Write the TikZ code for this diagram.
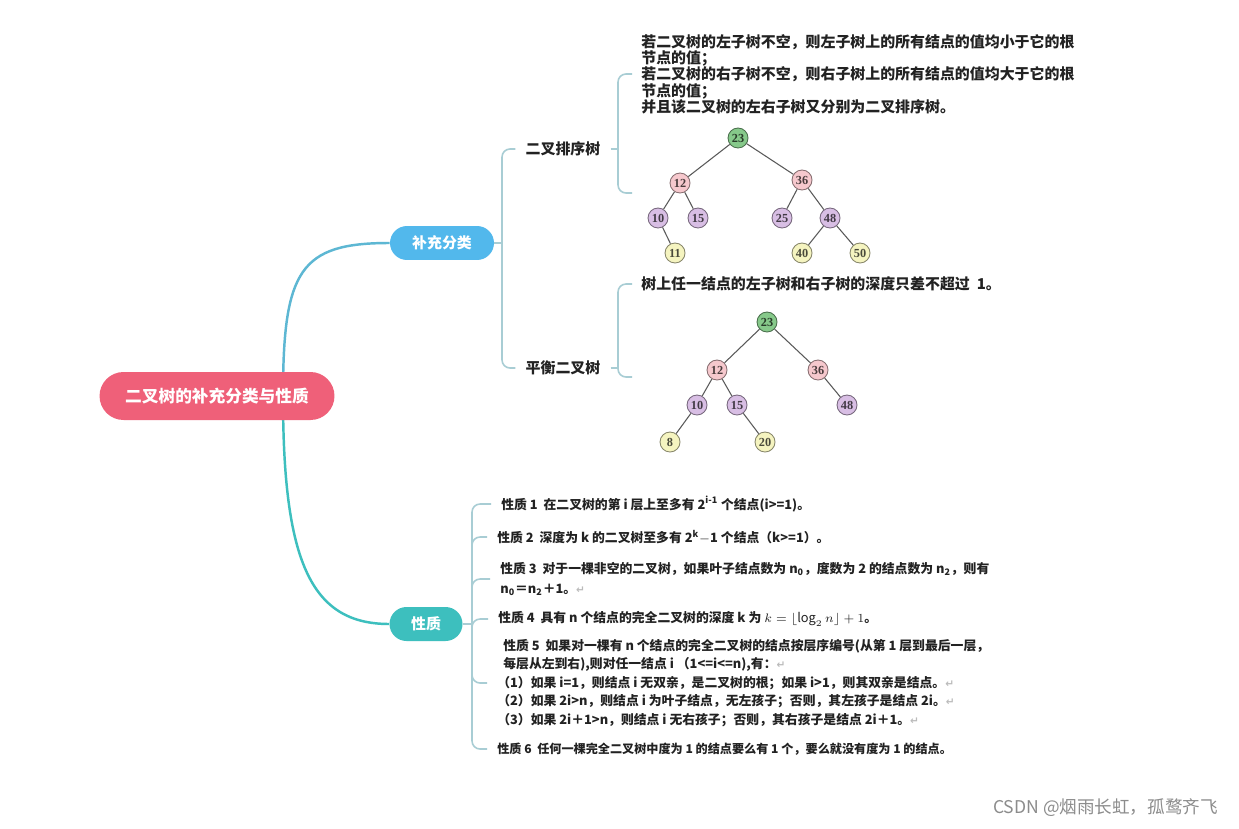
\documentclass[tikz,border=0pt]{standalone}
\usepackage{fontspec}
\setmainfont{Noto Sans CJK SC}
\newfontfamily\numfont{Liberation Serif}
\newfontfamily\symfont{DejaVu Sans}
\usetikzlibrary{positioning,calc,backgrounds}
\definecolor{cRoot}{HTML}{EF6079}
\definecolor{cBlue}{HTML}{52B8EC}
\definecolor{cTeal}{HTML}{3DBFBE}
\definecolor{cUpLine}{HTML}{5DB7D3}
\definecolor{cBrk}{HTML}{A8CDD4}
\definecolor{cGreen}{HTML}{86C98A}
\definecolor{cPink}{HTML}{F6C8CD}
\definecolor{cPurple}{HTML}{D8BEE4}
\definecolor{cYellow}{HTML}{F5F4C0}
\definecolor{cTxt}{HTML}{222222}
\definecolor{cRet}{HTML}{BBBBBB}
\newcommand{\retmark}{\textcolor{cRet}{\symfont\fontsize{6}{6}\selectfont ↵}}

\begin{document}
\begin{tikzpicture}[x=0.02cm,y=-0.02cm,
   pill/.style={rectangle,rounded corners=0.34cm,minimum height=0.68cm,inner sep=0pt,text=white,font=\fontsize{8.5}{10}\selectfont\bfseries},
   branch/.style={inner xsep=0.2cm,inner ysep=2pt,text=cTxt,font=\fontsize{8.5}{10}\selectfont\bfseries},
   note/.style={anchor=west,align=left,inner xsep=0.18cm,inner ysep=0pt,text=cTxt,font=\fontsize{8.5}{9.3}\selectfont\bfseries},
   prop/.style={anchor=west,align=left,inner xsep=0.2cm,inner ysep=0pt,text=cTxt,font=\fontsize{7.3}{10.5}\selectfont\bfseries},
   brk/.style={draw=cBrk,line width=0.9pt,rounded corners=0.16cm},
   tnode/.style={circle,draw=#1!55!black,fill=#1,text=#1!30!black,line width=0.5pt,minimum size=0.4cm,inner sep=0pt,font=\numfont\fontsize{7}{7}\selectfont\bfseries},
   tedge/.style={draw=black!65,line width=0.6pt}]
  \useasboundingbox (0,0) rectangle (1239,828);
  % main topics
  \node[pill,fill=cRoot,minimum width=4.7cm,minimum height=0.96cm,rounded corners=0.48cm,font=\fontsize{9.5}{11}\selectfont\bfseries] (root) at (217,396) {二叉树的补充分类与性质};
  \node[pill,fill=cBlue,minimum width=2.08cm] (buchong) at (442,243) {补充分类};
  \node[pill,fill=cTeal,minimum width=1.46cm] (xingzhi) at (426,624) {性质};
  \coordinate (rhub) at (283,396);
  \begin{scope}[on background layer]
    \fill[white] (0,0) rectangle (1239,828);
    \draw[cUpLine,line width=1.4pt] (rhub) .. controls (283,270) and (300,243) .. (buchong.west);
    \draw[cTeal,line width=1.4pt] (rhub) .. controls (283,560) and (310,624) .. (xingzhi.west);
  \end{scope}
  % subtopics
  \node[branch] (paixu) at (563,149) {二叉排序树};
  \node[branch] (pingheng) at (563,368) {平衡二叉树};
  \coordinate (bhub) at (502,243);
  \draw[brk] (buchong.east) -- (bhub);
  \draw[brk] (bhub) |- (paixu.west);
  \draw[brk] (bhub) |- (pingheng.west);
  % sorted tree
  \node[note] (rule1) at (632,74) {若二叉树的左子树不空，则左子树上的所有结点的值均小于它的根\\节点的值；\\若二叉树的右子树不空，则右子树上的所有结点的值均大于它的根\\节点的值；\\并且该二叉树的左右子树又分别为二叉排序树。};
  \coordinate (phub) at (618,149);
  \coordinate (t1) at (632,193);
  \draw[brk] (paixu.east) -- (phub);
  \draw[brk] (phub) |- (rule1.west);
  \draw[brk] (phub) |- (t1);
  \foreach \n/\x/\y/\c in {23/738/138/cGreen,12/680/183/cPink,36/802/180/cPink,
      10/658/218/cPurple,15/698/218/cPurple,25/782/218/cPurple,48/830/218/cPurple,
      11/675/253/cYellow,40/802/253/cYellow,50/860/253/cYellow}
    \node[tnode=\c] (a\n) at (\x,\y) {\n};
  \foreach \p/\q in {23/12,23/36,12/10,12/15,10/11,36/25,36/48,48/40,48/50}
    \draw[tedge] (a\p) -- (a\q);
  % balanced tree
  \node[note] (rule2) at (632,284) {树上任一结点的左子树和右子树的深度只差不超过\ \ 1。};
  \coordinate (qhub) at (618,368);
  \coordinate (t2) at (632,377);
  \draw[brk] (pingheng.east) -- (qhub);
  \draw[brk] (qhub) |- (rule2.west);
  \draw[brk] (qhub) |- (t2);
  \foreach \n/\x/\y/\c in {23/767/322/cGreen,12/717/370/cPink,36/818/370/cPink,
      10/697/405/cPurple,15/737/405/cPurple,48/847/405/cPurple,
      8/670/442/cYellow,20/765/442/cYellow}
    \node[tnode=\c] (b\n) at (\x,\y) {\n};
  \foreach \p/\q in {23/12,23/36,12/10,12/15,10/8,15/20,36/48}
    \draw[tedge] (b\p) -- (b\q);
  % properties
  \node[prop] (p1) at (491,504) {性质 1\ \ 在二叉树的第 i 层上至多有 2\textsuperscript{i-1} 个结点(i>=1)。};
  \node[prop] (p2) at (487,537) {性质 2\ \ 深度为 k 的二叉树至多有 2\textsuperscript{k}$-$1 个结点（k>=1）。};
  \node[prop,font=\fontsize{7.3}{11.3}\selectfont\bfseries] (p3) at (490,579) {性质 3\ \ 对于一棵非空的二叉树，如果叶子结点数为 n\textsubscript{0}，度数为 2 的结点数为 n\textsubscript{2}，则有\\n\textsubscript{0}＝n\textsubscript{2}＋1。\retmark};
  \node[prop] (p4) at (488,619) {性质 4\ \ 具有 n 个结点的完全二叉树的深度 k 为 $k=\lfloor\log_2 n\rfloor+1$。};
  \node[prop] (p5) at (487,683) {\hspace{0.12cm}性质 5\ \ 如果对一棵有 n 个结点的完全二叉树的结点按层序编号(从第 1 层到最后一层，\\
      \hspace{0.12cm}每层从左到右),则对任一结点 i （1<=i<=n),有：\retmark\\
      （1）如果 i=1，则结点 i 无双亲，是二叉树的根；如果 i>1，则其双亲是结点。\retmark\\
      （2）如果 2i>n，则结点 i 为叶子结点，无左孩子；否则，其左孩子是结点 2i。\retmark\\
      （3）如果 2i＋1>n，则结点 i 无右孩子；否则，其右孩子是结点 2i＋1。\retmark};
  \node[prop,font=\fontsize{6.9}{8}\selectfont\bfseries] (p6) at (487,749) {性质 6\ \ 任何一棵完全二叉树中度为 1 的结点要么有 1 个，要么就没有度为 1 的结点。};
  \coordinate (xhub) at (472,624);
  \draw[brk] (xingzhi.east) -- (xhub);
  \foreach \k in {1,...,6}
    \draw[brk] (xhub) |- (p\k.west);
  % watermark
  \node[anchor=east,text=black!45,font=\fontsize{10}{11}\selectfont] (mark) at (1224,808) {CSDN @烟雨长虹，孤鹜齐飞};
\end{tikzpicture}
\end{document}
